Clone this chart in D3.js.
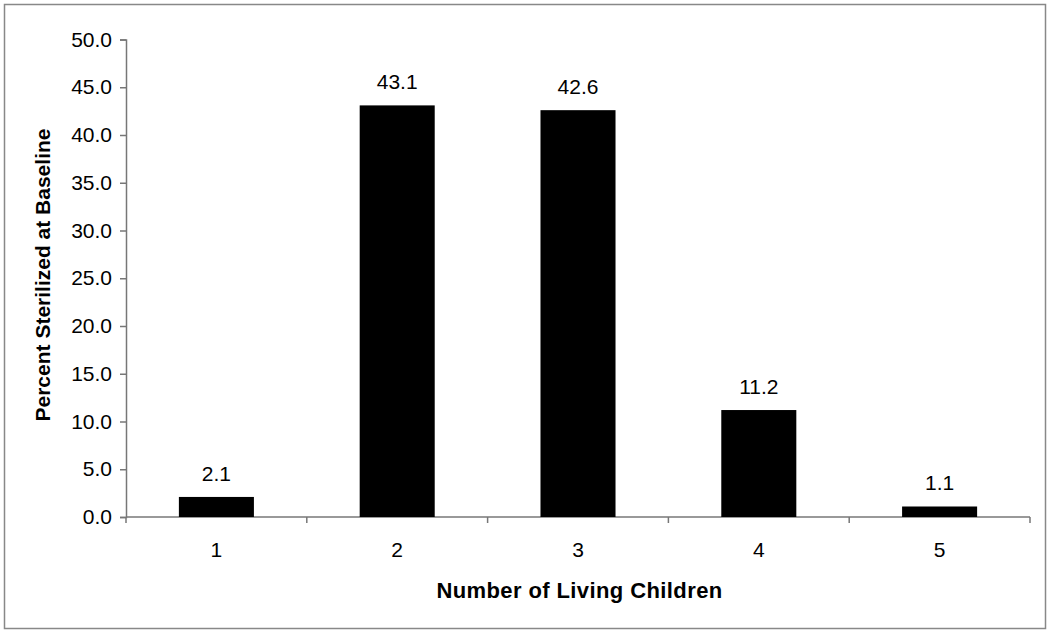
<!DOCTYPE html>
<html>
<head>
<meta charset="utf-8">
<script src="https://cdn.jsdelivr.net/npm/d3@7"></script>
<style>
  body { margin: 0; background: #fff; }
  text { font-family: "Liberation Sans", Arial, sans-serif; fill: #000; }
</style>
</head>
<body>
<div id="chart"></div>
<script>
const categories = ['1', '2', '3', '4', '5'];
const values = [2.1, 43.1, 42.6, 11.2, 1.1];
const yTicks = [0, 5, 10, 15, 20, 25, 30, 35, 40, 45, 50];

const width = 1050;
const height = 633;
const margin = { top: 40, right: 20, bottom: 116, left: 126 };

const svg = d3.select('#chart')
    .append('svg')
    .attr('width', width)
    .attr('height', height);

// outer frame
svg.append('rect')
    .attr('x', 4.5).attr('y', 4.5)
    .attr('width', 1041).attr('height', 624)
    .attr('fill', 'none')
    .attr('stroke', '#888')
    .attr('stroke-width', 1.5);

const x = d3.scaleBand()
    .domain(categories)
    .range([margin.left, 1030])
    .paddingInner(0.585)
    .paddingOuter(0.2925);

const band = d3.scaleBand()
    .domain(categories)
    .range([margin.left, 1030]);

const y = d3.scaleLinear()
    .domain([0, 50])
    .range([517, 39.5]);

// y axis
const yAxis = svg.append('g')
    .attr('transform', `translate(${margin.left},0)`)
    .call(d3.axisLeft(y).tickValues(yTicks).tickFormat(d3.format('.1f')).tickSize(6).tickPadding(8));
yAxis.select('.domain').attr('stroke', '#777').attr('stroke-width', 1.5);
yAxis.selectAll('.tick line').attr('stroke', '#777').attr('stroke-width', 1.5);
yAxis.selectAll('text').style('font-size', '21px');

// x axis: ticks at band boundaries
const xAxis = svg.append('g')
    .attr('transform', `translate(0,${y(0)})`);
xAxis.append('line')
    .attr('x1', margin.left).attr('x2', 1030)
    .attr('stroke', '#777').attr('stroke-width', 1.5);
const bounds = categories.map(c => band(c)).concat([1030]);
xAxis.selectAll('line.tk')
    .data(bounds)
    .enter()
    .append('line')
    .attr('class', 'tk')
    .attr('x1', d => d).attr('x2', d => d)
    .attr('y1', 0).attr('y2', 6)
    .attr('stroke', '#777').attr('stroke-width', 1.5);
xAxis.selectAll('text')
    .data(categories)
    .enter()
    .append('text')
    .attr('x', d => band(d) + band.bandwidth() / 2)
    .attr('y', 40)
    .attr('text-anchor', 'middle')
    .style('font-size', '21px')
    .text(d => d);

// bars
svg.selectAll('rect.bar')
    .data(values)
    .enter()
    .append('rect')
    .attr('class', 'bar')
    .attr('x', (d, i) => x(categories[i]))
    .attr('y', d => y(d))
    .attr('width', x.bandwidth())
    .attr('height', d => y(0) - y(d))
    .attr('fill', '#000');

// value labels
svg.selectAll('text.label')
    .data(values)
    .enter()
    .append('text')
    .attr('class', 'label')
    .attr('x', (d, i) => band(categories[i]) + band.bandwidth() / 2)
    .attr('y', d => y(d) - 16)
    .attr('text-anchor', 'middle')
    .style('font-size', '21px')
    .text(d => d.toFixed(1));

// axis titles
svg.append('text')
    .attr('x', 579.5)
    .attr('y', 598)
    .attr('text-anchor', 'middle')
    .style('font-size', '22px')
    .style('font-weight', 'bold')
    .style('letter-spacing', '0.4px')
    .text('Number of Living Children');

svg.append('text')
    .attr('transform', `translate(50,275) rotate(-90)`)
    .attr('text-anchor', 'middle')
    .style('font-size', '21px')
    .style('font-weight', 'bold')
    .text('Percent Sterilized at Baseline');
</script>
</body>
</html>
